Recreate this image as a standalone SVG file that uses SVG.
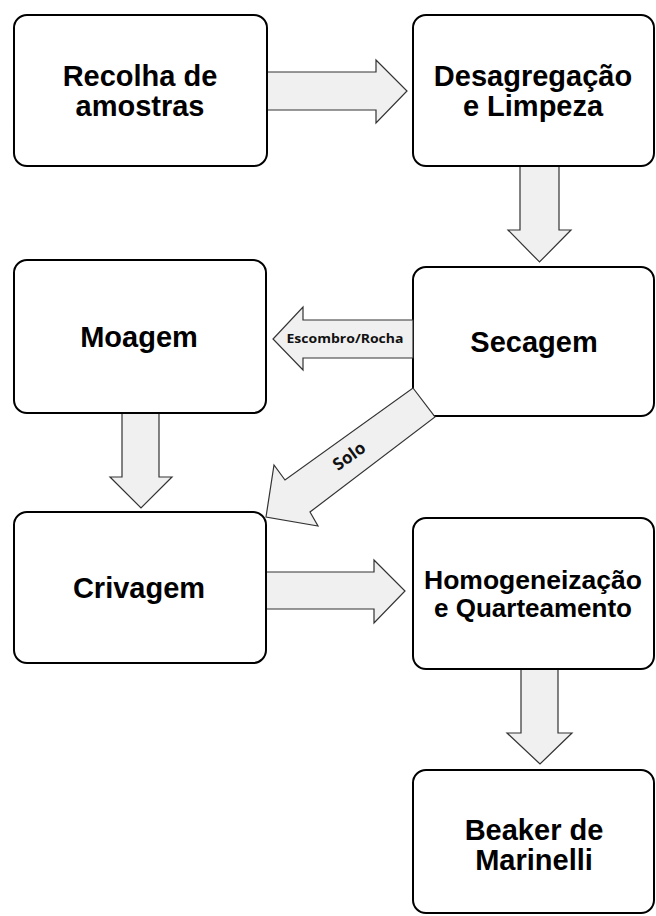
<svg xmlns="http://www.w3.org/2000/svg" width="656" height="916" viewBox="0 0 656 916">
<style>
.box{fill:#fff;stroke:#000;stroke-width:2}
.arr{fill:#f0f0f0;stroke:#333;stroke-width:1.2;stroke-linejoin:miter}
.t{font-family:"Liberation Sans",Arial,sans-serif;font-weight:bold;font-size:29px;fill:#000;text-anchor:middle}
.lbl{font-family:"Open Sans","DejaVu Sans",sans-serif;font-weight:bold;fill:#111;text-anchor:middle}
</style>
<rect width="656" height="916" fill="#fff"/>
<g id="connectors">
<polygon class="arr" points="267,72 376,72 376,60 407,91 376,123 376,110 267,110"/>
<polygon class="arr" points="520,166 559,166 559,230 571,230 539.5,262 508,230 520,230"/>
<polygon class="arr" points="122,413 159,413 159,477 172,477 141,508 110,477 122,477"/>
<polygon class="arr" points="266,572 374,572 374,560 405,591 374,623 374,609 266,609"/>
<polygon class="arr" points="521,669 558,669 558,733 572,733 540,764 507,733 521,733"/>
</g>
<g id="recolha"><rect class="box" x="14" y="15" width="253" height="151" rx="13"/><text class="t" x="140" y="86">Recolha de</text><text class="t" x="140" y="116">amostras</text></g>
<g id="desagregacao"><rect class="box" x="413" y="15" width="241" height="151" rx="13"/><text class="t" x="533" y="86">Desagregação</text><text class="t" x="533" y="116">e Limpeza</text></g>
<g id="secagem"><rect class="box" x="413" y="267" width="241" height="149" rx="13"/><text class="t" x="534" y="352">Secagem</text></g>
<g id="moagem"><rect class="box" x="14" y="260" width="252" height="153" rx="13"/><text class="t" x="139" y="347">Moagem</text></g>
<g id="crivagem"><rect class="box" x="14" y="512" width="252" height="151" rx="13"/><text class="t" x="139" y="598">Crivagem</text></g>
<g id="homogeneizacao"><rect class="box" x="413" y="518" width="241" height="151" rx="13"/><text class="t" x="533" y="589" style="font-size:26px" textLength="218" lengthAdjust="spacingAndGlyphs">Homogeneização</text><text class="t" x="533" y="617" style="font-size:26px">e Quarteamento</text></g>
<g id="beaker"><rect class="box" x="413" y="770" width="241" height="143" rx="13"/><text class="t" x="534" y="840">Beaker de</text><text class="t" x="534" y="870">Marinelli</text></g>
<g id="connectors-labeled">
<polygon class="arr" points="413,320 303,320 303,307 273,339 303,370 303,358 413,358"/>
<text class="lbl" x="345" y="343" style="font-size:12px" textLength="117" lengthAdjust="spacingAndGlyphs">Escombro/Rocha</text>
<polygon class="arr" points="413,388 435,417 310,512 318,526 266,517 274,465 285,480"/>
<text class="lbl" x="349" y="462" style="font-size:17px" transform="rotate(-36 349 456)">Solo</text>
</g>
</svg>
